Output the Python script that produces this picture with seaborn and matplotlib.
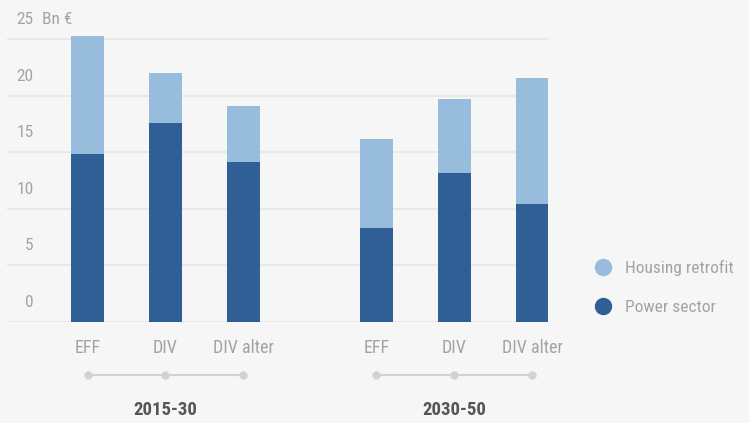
import numpy as np
import pandas as pd
import matplotlib
matplotlib.use("Agg")
import matplotlib.pyplot as plt
from matplotlib.lines import Line2D
import seaborn as sns

periods = ["2015-30", "2030-50"]
scenarios = ["EFF", "DIV", "DIV alter"]
power_sector = [14.8, 17.6, 14.1, 8.3, 13.2, 10.4]
housing_retrofit = [10.5, 4.4, 5.0, 7.9, 6.5, 11.2]
y_ticks = [0, 5, 10, 15, 20, 25]

LIGHT = "#97bcdc"
DARK = "#2f5f95"
BG = "#f6f6f6"
GRID = "#e6e6e6"
TXT = "#a3a3a3"
GAP = 0.705  # extra space between the two period groups

sns.set_theme(style="white")
plt.rcParams["font.family"] = ["Roboto Condensed", "DejaVu Sans Condensed", "Roboto", "DejaVu Sans"]

rows = []
for g, per in enumerate(periods):
    for i, sc in enumerate(scenarios):
        k = g * len(scenarios) + i
        rows.append({"period": per, "scenario": sc,
                     "pos": g * (len(scenarios) + GAP) + i,
                     "power": power_sector[k],
                     "total": power_sector[k] + housing_retrofit[k]})
df = pd.DataFrame(rows)

fig = plt.figure(figsize=(7.49, 4.23), dpi=100, facecolor=BG)
ax = fig.add_axes([0.0094, 0.2395, 0.7222, 0.6945])
ax.set_facecolor(BG)

for v in y_ticks:
    ax.axhline(v, color=GRID, lw=1.2, zorder=0)

sns.barplot(data=df, x="pos", y="total", native_scale=True, width=0.423,
            color=LIGHT, saturation=1, linewidth=0, ax=ax, zorder=2)
sns.barplot(data=df, x="pos", y="power", native_scale=True, width=0.423,
            color=DARK, saturation=1, linewidth=0, ax=ax, zorder=3)

ax.set_xlim(-1.032, df["pos"].max() + 0.2)
ax.set_ylim(0, 26)
ax.set_xticks([])
ax.set_yticks([])
ax.set_xlabel("")
ax.set_ylabel("")
for s in ax.spines.values():
    s.set_visible(False)

# y labels sit above their gridlines
for v in y_ticks:
    ax.annotate(str(v), xy=(0, v), xycoords=("axes fraction", "data"),
                xytext=(19, 14), textcoords="offset points",
                ha="right", va="center", fontsize=12.5, color=TXT)
ax.annotate("Bn €", xy=(0, 25), xycoords=("axes fraction", "data"),
            xytext=(25, 14), textcoords="offset points",
            ha="left", va="center", fontsize=12.5, color=TXT)

# scenario labels, connector dots and period labels
trans = ax.get_xaxis_transform()
for _, r in df.iterrows():
    ax.text(r["pos"], -0.09, r["scenario"], transform=trans, ha="center",
            va="center", fontsize=13, color=TXT, clip_on=False)
for per in periods:
    sub = df[df["period"] == per]
    ax.plot(sub["pos"], [-0.181] * len(sub), transform=trans, color="#d2d2d2",
            lw=1.5, marker="o", ms=5, clip_on=False)
    ax.text(sub["pos"].mean(), -0.302, per, transform=trans, ha="center",
            va="center", fontsize=13.5, fontweight="bold", color="#555555",
            clip_on=False)

handles = [Line2D([], [], ls="", marker="o", ms=11.5, color=LIGHT),
           Line2D([], [], ls="", marker="o", ms=11.5, color=DARK)]
fig.legend(handles, ["Housing retrofit", "Power sector"], loc="upper left",
           bbox_to_anchor=(0.793, 0.385), frameon=False, fontsize=12.5,
           labelcolor=TXT, handlelength=1, handletextpad=0.8,
           labelspacing=1.35, borderpad=0, borderaxespad=0)

fig.savefig("out.png", dpi=100, facecolor=BG)
